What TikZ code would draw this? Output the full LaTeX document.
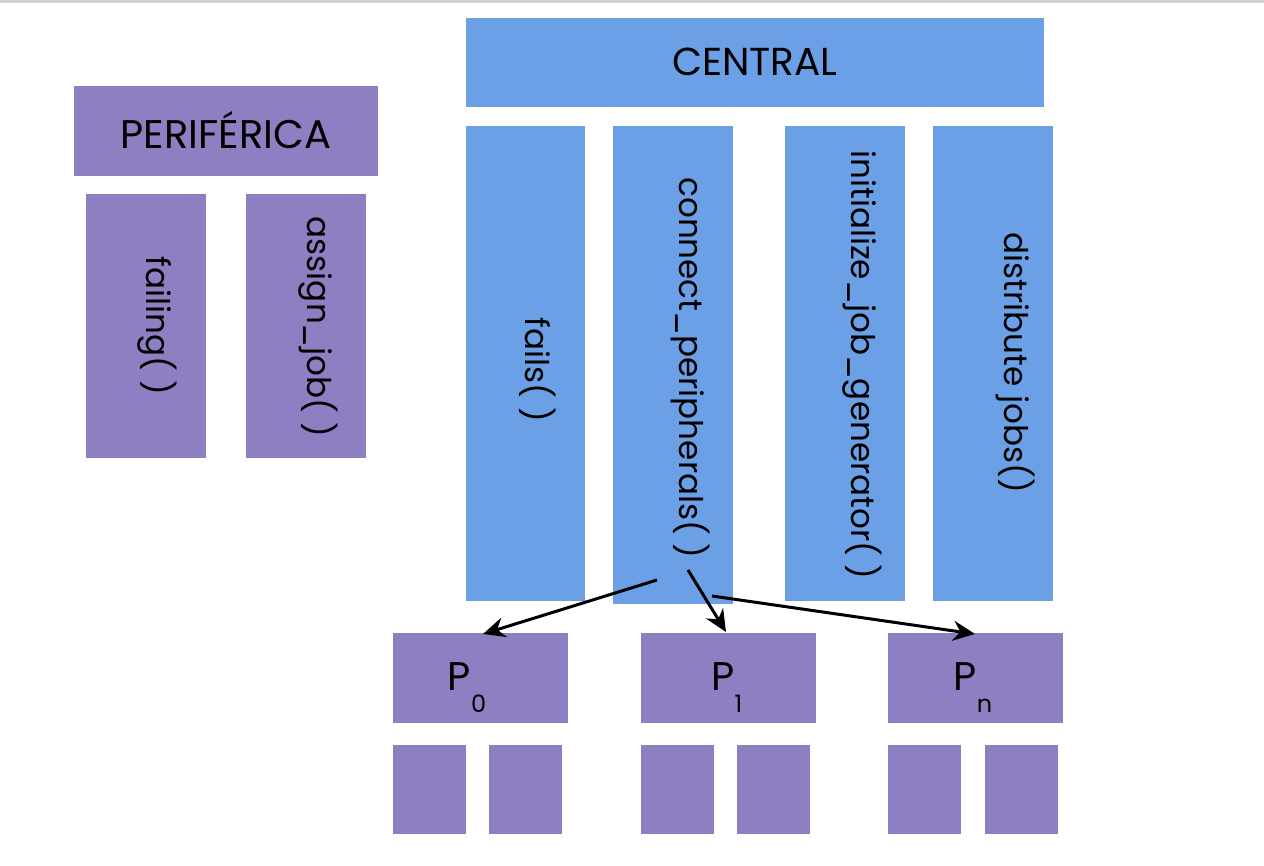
\documentclass[tikz,border=0pt]{standalone}
\usepackage{fontspec}
\setmainfont{Poppins}
\usetikzlibrary{arrows.meta}
\definecolor{cblue}{RGB}{108,160,230}
\definecolor{cpurp}{RGB}{141,127,193}
\tikzset{
  box/.style={inner sep=0pt, outer sep=0pt},
  bluebox/.style={fill=cblue, draw=none},
  purpbox/.style={fill=cpurp, draw=none},
  lbl/.style={font=\fontsize{20}{22}\selectfont, text=black},
  vlbl/.style={font=\fontsize{16.3}{19}\selectfont, text=black, rotate=-90},
  conn/.style={-{Stealth[length=11pt,width=10pt]}, line width=1.5pt, black},
}
\newcommand{\Psub}[1]{P\raisebox{-1.0ex}{\fontsize{12}{14}\selectfont #1}}
\begin{document}
\begin{tikzpicture}[x=0.5pt,y=-0.5pt]
\useasboundingbox (0,0) rectangle (1264,866);
\fill[gray!35] (0,0) rectangle (1264,3);
% CENTRAL
\fill[bluebox] (466,18) rectangle (1044,107);
\node[lbl, font=\fontsize{19.5}{22}\selectfont] (central) at (755,62) {CENTRAL};
% PERIFERICA
\fill[purpbox] (74,86) rectangle (378,176);
\node[lbl] (perif) at (226,130) {PERIFÉRICA};
\fill[purpbox] (86,194) rectangle (206,458);
\node[vlbl] (failing) at (157,326) {failing( )};
\fill[purpbox] (246,194) rectangle (366,458);
\node[vlbl] (assign) at (318,327) {assign\_job( )};
% central boxes
\fill[bluebox] (466,126) rectangle (585,601);
\node[vlbl] (fails) at (538,370) {fails( )};
\fill[bluebox] (613,126) rectangle (733,604);
\node[vlbl] (connect) at (690,368) {connect\_peripherals( )};
\fill[bluebox] (785,126) rectangle (905,601);
\node[vlbl] (init) at (862,365) {initialize\_job\_generator( )};
\fill[bluebox] (933,126) rectangle (1053,601);
\node[vlbl] (distr) at (1015,363) {distribute jobs()};
% P boxes
\node[box, purpbox, minimum width=87.5pt, minimum height=45pt, anchor=north west] (p0) at (393,633) {};
\node[lbl] at (467,688) {\Psub{0}};
\node[box, purpbox, minimum width=87.5pt, minimum height=45pt, anchor=north west] (p1) at (641,633) {};
\node[lbl] at (727,688) {\Psub{1}};
\node[box, purpbox, minimum width=87.5pt, minimum height=45pt, anchor=north west] (pn) at (888,633) {};
\node[lbl] at (973,688) {\Psub{n}};
% small boxes
\foreach \xx in {393,489,641,737,888,985}{
  \fill[purpbox] (\xx,745) rectangle ++(73,89);
}
% arrows
\coordinate (s0) at (657,580);
\coordinate (s1) at (688,570);
\coordinate (s2) at (712,596);
\coordinate (e0) at (483,634);
\coordinate (e1) at (726,632);
\coordinate (e2) at (975,634);
\draw[conn] (s0) -- (e0);
\draw[conn] (s1) -- (e1);
\draw[conn] (s2) -- (e2);
\end{tikzpicture}
\end{document}
